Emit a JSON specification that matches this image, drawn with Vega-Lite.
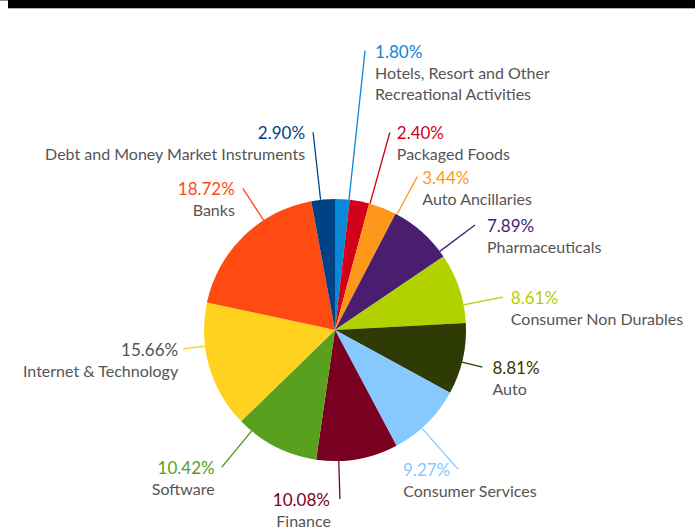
{
  "$schema": "https://vega.github.io/schema/vega-lite/v6.json",
  "width": 720,
  "height": 660,
  "autosize": {"type": "none"},
  "padding": {"left": -25, "top": 0, "right": 0, "bottom": -132},
  "background": "white",
  "config": {
    "view": {"stroke": null},
    "text": {"font": "Lato"}
  },
  "data": {
    "values": [
      {"sector": "Hotels, Resort and Other\nRecreational Activities", "ord": 1, "share": 0.018},
      {"sector": "Packaged Foods", "ord": 2, "share": 0.024},
      {"sector": "Auto Ancillaries", "ord": 3, "share": 0.0344},
      {"sector": "Pharmaceuticals", "ord": 4, "share": 0.0789},
      {"sector": "Consumer Non Durables", "ord": 5, "share": 0.0861},
      {"sector": "Auto", "ord": 6, "share": 0.0881},
      {"sector": "Consumer Services", "ord": 7, "share": 0.0927},
      {"sector": "Finance", "ord": 8, "share": 0.1008},
      {"sector": "Software", "ord": 9, "share": 0.1042},
      {"sector": "Internet & Technology", "ord": 10, "share": 0.1566},
      {"sector": "Banks", "ord": 11, "share": 0.1872},
      {"sector": "Debt and Money Market Instruments", "ord": 12, "share": 0.029}
    ]
  },
  "layer": [
    {
      "mark": {"type": "arc", "outerRadius": 131},
      "encoding": {
        "theta": {"field": "share", "type": "quantitative", "stack": true},
        "order": {"field": "ord", "type": "quantitative", "sort": "ascending"},
        "color": {
          "field": "sector",
          "type": "nominal",
          "legend": null,
          "scale": {
            "domain": ["Hotels, Resort and Other\nRecreational Activities", "Packaged Foods", "Auto Ancillaries", "Pharmaceuticals", "Consumer Non Durables", "Auto", "Consumer Services", "Finance", "Software", "Internet & Technology", "Banks", "Debt and Money Market Instruments"],
            "range": ["#0a88d8", "#d20018", "#ff981a", "#4a1e6e", "#b2d200", "#2f3b05", "#85c9ff", "#7a0022", "#58a01e", "#ffd21f", "#ff4a12", "#004385"]
          }
        }
      }
    },
    {
      "mark": {
        "type": "arc",
        "filled": false,
        "padAngle": 3.1416,
        "innerRadius": 131,
        "outerRadius": {"expr": "[0,281,205,174,175,171,152,186,169,178,153,169,199][datum.ord]"},
        "thetaOffset": {"expr": "[0,0.0506,0.0820,0.1204,0.1990,0.1309,0.0244,0.0559,0.1431,0.2182,0.1553,0.1937,-0.0192][datum.ord]"},
        "theta2Offset": {"expr": "[0,0.0506,0.0820,0.1204,0.1990,0.1309,0.0244,0.0559,0.1431,0.2182,0.1553,0.1937,-0.0192][datum.ord]"},
        "strokeWidth": 1.3
      },
      "encoding": {
        "theta": {"field": "share", "type": "quantitative", "stack": true},
        "order": {"field": "ord", "type": "quantitative", "sort": "ascending"},
        "color": {"field": "sector", "type": "nominal", "legend": null}
      }
    },
    {
      "mark": {
        "type": "text",
        "radius": {"expr": "[0,281,205,174,175,171,152,186,169,178,153,169,199][datum.ord]"},
        "thetaOffset": {"expr": "[0,0.0506,0.0820,0.1204,0.1990,0.1309,0.0244,0.0559,0.1431,0.2182,0.1553,0.1937,-0.0192][datum.ord]"},
        "align": {"expr": "datum.ord <= 6 ? 'left' : 'right'"},
        "dx": {"expr": "[0,10,7,5,12,8,10,-8,-10,-7,-5,-8,-8][datum.ord]"},
        "dy": 7,
        "baseline": "alphabetic",
        "fontSize": 17
      },
      "encoding": {
        "theta": {"field": "share", "type": "quantitative", "stack": true},
        "order": {"field": "ord", "type": "quantitative", "sort": "ascending"},
        "text": {"field": "share", "type": "quantitative", "format": ".2%"},
        "color": {
          "condition": {"test": "datum.ord === 10", "value": "#555555"},
          "field": "sector",
          "type": "nominal",
          "legend": null
        }
      }
    },
    {
      "mark": {
        "type": "text",
        "radius": {"expr": "[0,281,205,174,175,171,152,186,169,178,153,169,199][datum.ord]"},
        "thetaOffset": {"expr": "[0,0.0506,0.0820,0.1204,0.1990,0.1309,0.0244,0.0559,0.1431,0.2182,0.1553,0.1937,-0.0192][datum.ord]"},
        "align": {"expr": "datum.ord <= 7 ? 'left' : 'right'"},
        "dx": {"expr": "[0,10,7,5,12,8,10,-55,-9,-7,-5,-8,-8][datum.ord]"},
        "dy": 28,
        "baseline": "alphabetic",
        "lineBreak": "\n",
        "lineHeight": 21,
        "fontSize": 16,
        "color": "#555555"
      },
      "encoding": {
        "theta": {"field": "share", "type": "quantitative", "stack": true},
        "order": {"field": "ord", "type": "quantitative", "sort": "ascending"},
        "text": {"field": "sector", "type": "nominal"}
      }
    },
    {
      "data": {"values": [{"frame": "left"}]},
      "mark": {"type": "rect", "fill": null, "stroke": "#8c8c8c", "strokeWidth": 2, "xOffset": 33, "x2Offset": 33}
    },
    {
      "data": {"values": [{"frame": "header"}]},
      "mark": {"type": "rect", "fill": null, "stroke": "#b0b0b0", "strokeWidth": 18, "strokeDash": [687, 4000], "strokeDashOffset": -33}
    },
    {
      "data": {"values": [{"frame": "header"}]},
      "mark": {"type": "rect", "fill": null, "stroke": "#000000", "strokeWidth": 16, "strokeDash": [687, 4000], "strokeDashOffset": -33}
    }
  ]
}
